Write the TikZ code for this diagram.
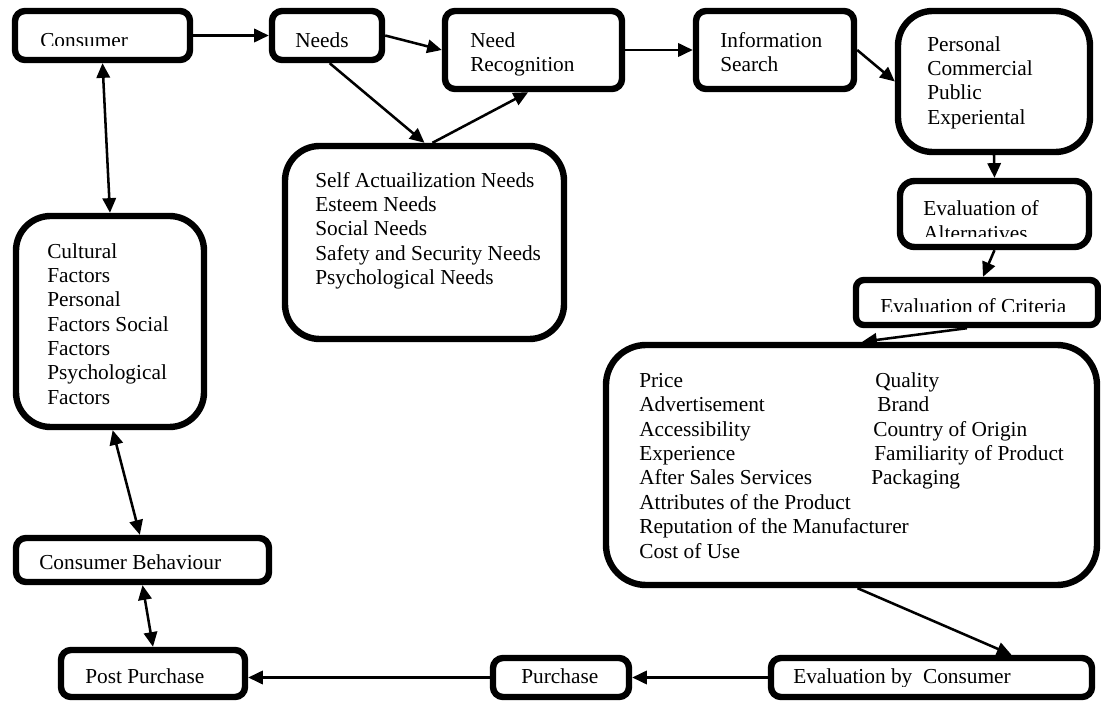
\documentclass[tikz,border=0pt]{standalone}
\usepackage{fontspec}
\setmainfont{Liberation Serif}
\usetikzlibrary{fit,arrows.meta}
\tikzset{
  box/.style={draw, line width=4.8pt, inner sep=0pt, rounded corners=#1},
  box/.default=7.5pt,
  txt/.style={anchor=base west, inner sep=0pt, font=\fontsize{16}{18}\selectfont},
  conn/.style={line width=1.9pt, -{Triangle[length=11pt,width=10pt]}},
  dconn/.style={line width=1.9pt, {Triangle[length=11pt,width=10pt]}-{Triangle[length=11pt,width=10pt]}}
}
\begin{document}
\begin{tikzpicture}[x=0.75pt,y=-0.75pt]
\useasboundingbox (0,0) rectangle (1101,702);
\fill[white] (0,0) rectangle (1101,702);

% boxes
\node[box, fit={(15,11) (190,60)}] (consumer) {};
\node[box, fit={(272,11) (382,60)}] (needs) {};
\node[box, fit={(445,11) (622,89)}] (needrec) {};
\node[box, fit={(696,11) (854,89)}] (info) {};
\node[box=26pt, fit={(898,11) (1090,152)}] (personal) {};
\node[box=11pt, fit={(900,181) (1089,247)}] (evalalt) {};
\node[box=6pt, fit={(856,280) (1098,325)}] (evalcrit) {};
\node[box=30pt, fit={(606,345) (1097,585)}] (criteria) {};
\node[box=26pt, fit={(285,146) (564,339)}] (self) {};
\node[box=26pt, fit={(16,216) (204,427)}] (cultural) {};
\node[box, fit={(16,538) (269,582)}] (cb) {};
\node[box, fit={(61,650) (245,697)}] (post) {};
\node[box, fit={(493,658) (629,697)}] (purchase) {};
\node[box, fit={(771,658) (1092,697)}] (evalcons) {};

% texts
\begin{scope}
\clip (20,15) rectangle (185,46);
\node[txt] (tconsumer) at (40,48) {Consumer};
\end{scope}
\node[txt] (tneeds) at (295,48) {Needs};
\node[txt] (tneed) at (470,48) {Need};
\begin{scope}
\clip (450,50) rectangle (615,77);
\node[txt] (trecog) at (470,72) {Recognition};
\end{scope}
\node[txt] (tinfo1) at (720,48) {Information};
\node[txt] (tinfo2) at (720,72) {Search};
\node[txt] (tpers1) at (927,52) {Personal};
\node[txt] (tpers2) at (927,76) {Commercial};
\node[txt] (tpers3) at (927,100) {Public};
\node[txt] (tpers4) at (927,125) {Experiental};
\node[txt] (talt1) at (923,216) {Evaluation of};
\begin{scope}
\clip (905,220) rectangle (1085,237);
\node[txt] (talt2) at (923,241) {Alternatives};
\end{scope}
\begin{scope}
\clip (860,284) rectangle (1094,312);
\node[txt] (tcrit) at (880,314) {Evaluation of Criteria};
\end{scope}

\node[txt] (c1) at (639,388) {Price};
\node[txt] (c2) at (639,412) {Advertisement};
\node[txt] (c3) at (639,437) {Accessibility};
\node[txt] (c4) at (639,461) {Experience};
\node[txt] (c5) at (639,485) {After Sales Services};
\node[txt] (c6) at (639,510) {Attributes of the Product};
\node[txt] (c7) at (639,534) {Reputation of the Manufacturer};
\node[txt] (c8) at (639,559) {Cost of Use};
\node[txt] (d1) at (875,388) {Quality};
\node[txt] (d2) at (877,412) {Brand};
\node[txt] (d3) at (873,437) {Country of Origin};
\node[txt] (d4) at (874,461) {Familiarity of Product};
\node[txt] (d5) at (871,485) {Packaging};

\node[txt] (s1) at (315,188) {Self Actuailization Needs};
\node[txt] (s2) at (315,212) {Esteem Needs};
\node[txt] (s3) at (315,236) {Social Needs};
\node[txt] (s4) at (315,261) {Safety and Security Needs};
\node[txt] (s5) at (315,285) {Psychological Needs};

\node[txt] (f1) at (47,259) {Cultural};
\node[txt] (f2) at (47,283) {Factors};
\node[txt] (f3) at (47,307) {Personal};
\node[txt] (f4) at (47,332) {Factors Social};
\node[txt] (f5) at (47,356) {Factors};
\node[txt] (f6) at (47,380) {Psychological};
\node[txt] (f7) at (47,405) {Factors};

\node[txt] (tcb) at (39,570) {Consumer Behaviour};
\node[txt] (tpost) at (85,683) {Post Purchase};
\node[txt] (tpurch) at (521,683) {Purchase};
\begin{scope}
\clip (775,662) rectangle (1088,686);
\node[txt] (tevc) at (793,683) {Evaluation by\ \ Consumer};
\end{scope}

% connectors
\draw[conn] (consumer.east) -- (needs.west);
\draw[conn] (needs.east) -- (needrec.west);
\draw[conn] (needrec.east) -- (info.west);
\draw[conn] (info.east) -- (personal.west);
\draw[conn] (personal.south) -- (evalalt.north);
\draw[conn] (evalalt.south) -- ([xshift=4.5pt]evalcrit.north);
\draw[conn] ([xshift=-7.5pt]evalcrit.south) -- ([xshift=8pt]criteria.north);
\draw[conn] ([xshift=4.5pt]criteria.south) -- ([xshift=60pt]evalcons.north);
\draw[conn] (evalcons.west) -- (purchase.east);
\draw[conn] (purchase.west) -- (purchase.west -| post.east);
\draw[conn] ([xshift=2pt]needs.south) -- (self.north);
\draw[conn] ([xshift=6pt]self.north) -- ([xshift=-4pt]needrec.south);
\draw[dconn] (consumer.south) -- (cultural.north);
\draw[dconn] ([xshift=2pt]cultural.south) -- ([xshift=-2pt]cb.north);
\draw[dconn] (cb.south) -- (post.north);
\end{tikzpicture}
\end{document}
